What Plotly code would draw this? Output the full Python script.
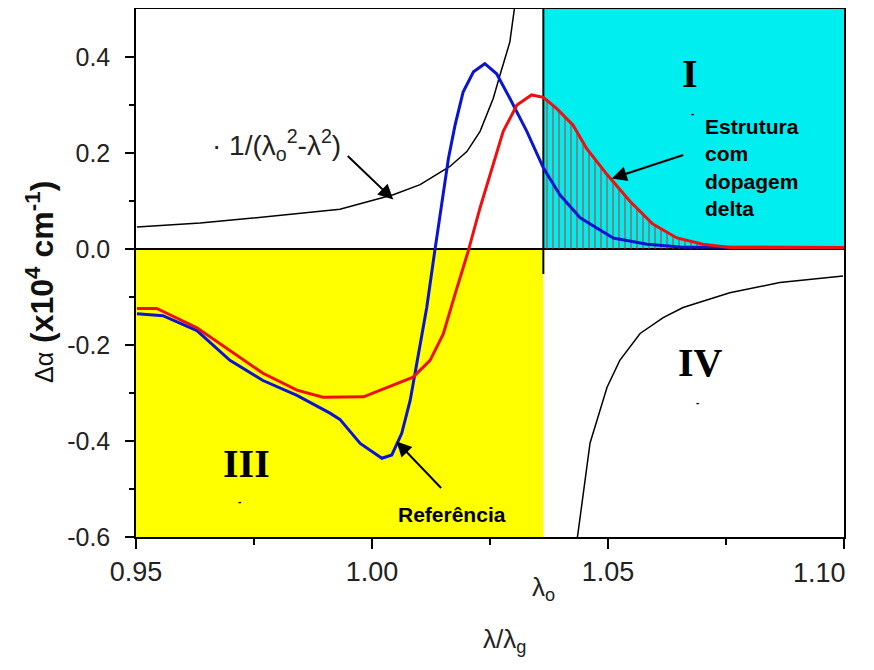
import plotly.graph_objects as go

# ---- data ----
lambda0 = 1.0363

ref_x = [0.9502, 0.9557, 0.9629, 0.9699, 0.9769, 0.9841, 0.9911, 0.9932, 0.9975, 1.0021,
         1.0042, 1.0063, 1.0081, 1.0098, 1.0116, 1.0133, 1.0148, 1.0162, 1.0176, 1.0193,
         1.0215, 1.0239, 1.0264, 1.0292, 1.0328, 1.0363, 1.0398, 1.0441, 1.0511, 1.0583,
         1.0653, 1.0800, 1.1000]
ref_y = [-0.135, -0.139, -0.170, -0.232, -0.274, -0.305, -0.342, -0.355, -0.405, -0.436,
         -0.429, -0.384, -0.315, -0.225, -0.122, -0.004, 0.099, 0.189, 0.258, 0.327,
         0.369, 0.386, 0.365, 0.314, 0.245, 0.169, 0.113, 0.065, 0.023, 0.010,
         0.004, 0.003, 0.003]

delta_x = [0.9502, 0.9544, 0.9629, 0.9699, 0.9769, 0.9841, 0.9896, 0.9982, 1.0024, 1.0087,
           1.0123, 1.0151, 1.0176, 1.0204, 1.0229, 1.0254, 1.0278, 1.0307, 1.0338, 1.0363,
           1.0391, 1.0426, 1.0455, 1.0498, 1.0547, 1.0595, 1.0646, 1.0701, 1.0758, 1.1000]
delta_y = [-0.124, -0.124, -0.164, -0.211, -0.259, -0.294, -0.309, -0.308, -0.291, -0.267,
           -0.232, -0.177, -0.094, -0.004, 0.086, 0.169, 0.245, 0.300, 0.321, 0.316,
           0.293, 0.258, 0.209, 0.155, 0.099, 0.052, 0.023, 0.010, 0.003, 0.003]

disp_left_x = [0.9502, 0.9636, 0.9742, 0.9847, 0.9932, 1.0045, 1.0102, 1.0165, 1.0201,
               1.0229, 1.0257, 1.0271, 1.0285, 1.0292, 1.0303]
disp_left_y = [0.046, 0.054, 0.064, 0.075, 0.083, 0.113, 0.134, 0.172, 0.203,
               0.245, 0.314, 0.362, 0.410, 0.431, 0.510]
disp_right_x = [1.0432, 1.0436, 1.0462, 1.0498, 1.0525, 1.0568, 1.0617, 1.0659, 1.0758,
                1.0864, 1.0998]
disp_right_y = [-0.62, -0.595, -0.404, -0.288, -0.232, -0.176, -0.143, -0.122, -0.091,
                -0.070, -0.056]

x_ticks = [0.95, 1.00, 1.05, 1.10]
x_ticktext = ["0.95", "1.00", "1.05", ""]
x_last_label = "1.10"
x_minor = [0.975, 1.025, 1.075]
y_ticks = [-0.6, -0.4, -0.2, 0.0, 0.2, 0.4]
y_ticktext = ["-0.6", "-0.4", "-0.2", "0.0", "0.2", "0.4"]
y_minor = [-0.5, -0.3, -0.1, 0.1, 0.3]

X_RANGE = [0.95, 1.10]
Y_RANGE = [-0.6, 0.5]

hatch_x = [x for x in delta_x if lambda0 <= x <= 1.072]
hatch_y = [y for x, y in zip(delta_x, delta_y) if lambda0 <= x <= 1.072]

fig = go.Figure()

# hatched area under the delta-doped curve in region I
fig.add_trace(go.Scatter(
    x=hatch_x, y=hatch_y, mode="lines", line=dict(width=0, color="rgba(0,0,0,0)"),
    fill="tozeroy", fillcolor="rgba(0,0,0,0)",
    fillpattern=dict(shape="|", fgcolor="#d02828", bgcolor="rgba(0,0,0,0)",
                     size=6, solidity=0.35),
    hoverinfo="skip", showlegend=False))

# dispersion curve 1/(λ0²-λ²)
fig.add_trace(go.Scatter(x=disp_left_x, y=disp_left_y, mode="lines",
                         line=dict(color="black", width=1.5), showlegend=False))
fig.add_trace(go.Scatter(x=disp_right_x, y=disp_right_y, mode="lines",
                         line=dict(color="black", width=1.5), showlegend=False))

# reference (blue) and delta doped (red)
fig.add_trace(go.Scatter(x=ref_x, y=ref_y, mode="lines",
                         line=dict(color="#0a14d2", width=3), showlegend=False))
fig.add_trace(go.Scatter(x=delta_x, y=delta_y, mode="lines",
                         line=dict(color="#ee1010", width=3), showlegend=False))

# background regions
fig.add_shape(type="rect", xref="x", yref="y", x0=X_RANGE[0], x1=lambda0, y0=Y_RANGE[0], y1=0,
              fillcolor="#ffff00", line=dict(width=0), layer="below")
fig.add_shape(type="rect", xref="x", yref="y", x0=lambda0, x1=X_RANGE[1], y0=0, y1=Y_RANGE[1],
              fillcolor="#00eef0", line=dict(width=0), layer="below")
fig.add_shape(type="line", xref="x", yref="y", x0=X_RANGE[0], x1=X_RANGE[1], y0=0, y1=0,
              line=dict(color="black", width=2), layer="below")
fig.add_shape(type="line", xref="x", yref="y", x0=lambda0, x1=lambda0, y0=-0.052, y1=Y_RANGE[1],
              line=dict(color="black", width=2), layer="below")

label_font = dict(family="Liberation Sans, Arial, sans-serif", color="#222222")

ann = []
# last x tick label (drawn flush right like the reference)
ann.append(dict(x=X_RANGE[1], y=-0.068, xref="x", yref="paper", text=x_last_label,
                xanchor="right", yanchor="middle", xshift=4, showarrow=False,
                font=dict(size=27, **label_font)))
# roman numerals
for txt, xv, yv in [("I", 1.0674, 0.365), ("III", 0.9735, -0.446), ("IV", 1.0695, -0.236)]:
    ann.append(dict(x=xv, y=yv, xref="x", yref="y", text="<b>%s</b>" % txt, showarrow=False,
                    xanchor="center", yanchor="middle",
                    font=dict(family="Liberation Serif, Times New Roman, serif", size=40, color="black")))
# tiny dashes under numerals
for xv, yv in [(1.0680, 0.282), (1.0689, -0.319), (0.9720, -0.526)]:
    ann.append(dict(x=xv, y=yv, xref="x", yref="y", text="<b>-</b>", showarrow=False,
                    xanchor="center", yanchor="middle",
                    font=dict(family="Liberation Sans", size=10, color="black")))

ann.append(dict(x=0.9798, y=0.2176, xref="x", yref="y", xanchor="center", yanchor="middle",
                text="· 1/(λ<sub>o</sub><sup>2</sup>-λ<sup>2</sup>)", showarrow=False,
                font=dict(size=28, **label_font)))
ann.append(dict(x=1.0045, y=0.103, xref="x", yref="y", text="", showarrow=True,
                ax=-47, ay=-45, arrowhead=2, arrowsize=1.5, arrowwidth=2, arrowcolor="black"))

ann.append(dict(x=1.0701, y=0.170, xref="x", yref="y", xanchor="left", yanchor="middle",
                align="left",
                text="<b>Estrutura<br>com<br>dopagem<br>delta</b>", showarrow=False,
                font=dict(family="Liberation Sans, Arial, sans-serif", size=21, color="black")))
ann.append(dict(x=1.0508, y=0.147, xref="x", yref="y", text="", showarrow=True,
                ax=73, ay=-24, arrowhead=2, arrowsize=1.5, arrowwidth=2, arrowcolor="black"))

ann.append(dict(x=1.0170, y=-0.554, xref="x", yref="y", text="<b>Referência</b>",
                showarrow=False, xanchor="center", yanchor="middle",
                font=dict(family="Liberation Sans, Arial, sans-serif", size=21, color="black")))
ann.append(dict(x=1.0052, y=-0.401, xref="x", yref="y", text="", showarrow=True,
                ax=46, ay=48, arrowhead=2, arrowsize=1.5, arrowwidth=2, arrowcolor="black"))

# λ0 label under the axis
ann.append(dict(x=lambda0, y=-0.098, xref="x", yref="paper", text="λ<sub>o</sub>",
                xanchor="center", yanchor="middle",
                showarrow=False, font=dict(size=26, **label_font)))
# axis titles
ann.append(dict(x=0.521, y=-0.196, xref="paper", yref="paper", text="λ/λ<sub>g</sub>",
                xanchor="center", yanchor="middle",
                showarrow=False, font=dict(size=26, **label_font)))
ann.append(dict(x=-0.1356, y=0.483, xref="paper", yref="paper", textangle=-90,
                xanchor="center", yanchor="middle",
                text="<span style='font-size:25px;font-weight:normal'>Δα</span>"
                     " <b>(x10<sup>4</sup> cm<sup>-1</sup>)</b>",
                showarrow=False,
                font=dict(family="Liberation Sans, Arial, sans-serif", size=32, color="#111111")))

fig.update_layout(
    width=866, height=663,
    margin=dict(l=128, r=30, t=1, b=134),
    paper_bgcolor="white", plot_bgcolor="white",
    annotations=ann,
    xaxis=dict(range=X_RANGE, tickvals=x_ticks, ticktext=x_ticktext,
               ticks="outside", ticklen=10, tickwidth=1.5, tickcolor="black",
               minor=dict(tickvals=x_minor, ticks="outside", ticklen=6, tickwidth=1.5,
                          tickcolor="black"),
               showline=True, linecolor="black", linewidth=1.5, mirror=True,
               showgrid=False, zeroline=False, automargin=False,
               tickfont=dict(size=27, **label_font)),
    yaxis=dict(range=Y_RANGE, tickvals=y_ticks, ticktext=y_ticktext,
               ticks="outside", ticklen=9, tickwidth=1.5, tickcolor="black",
               minor=dict(tickvals=y_minor, ticks="outside", ticklen=5, tickwidth=1.5,
                          tickcolor="black"),
               showline=True, linecolor="black", linewidth=1.5, mirror=True,
               showgrid=False, zeroline=False, ticklabelstandoff=10, automargin=False,
               tickfont=dict(size=25, **label_font)),
)

fig.write_html("out.html")
